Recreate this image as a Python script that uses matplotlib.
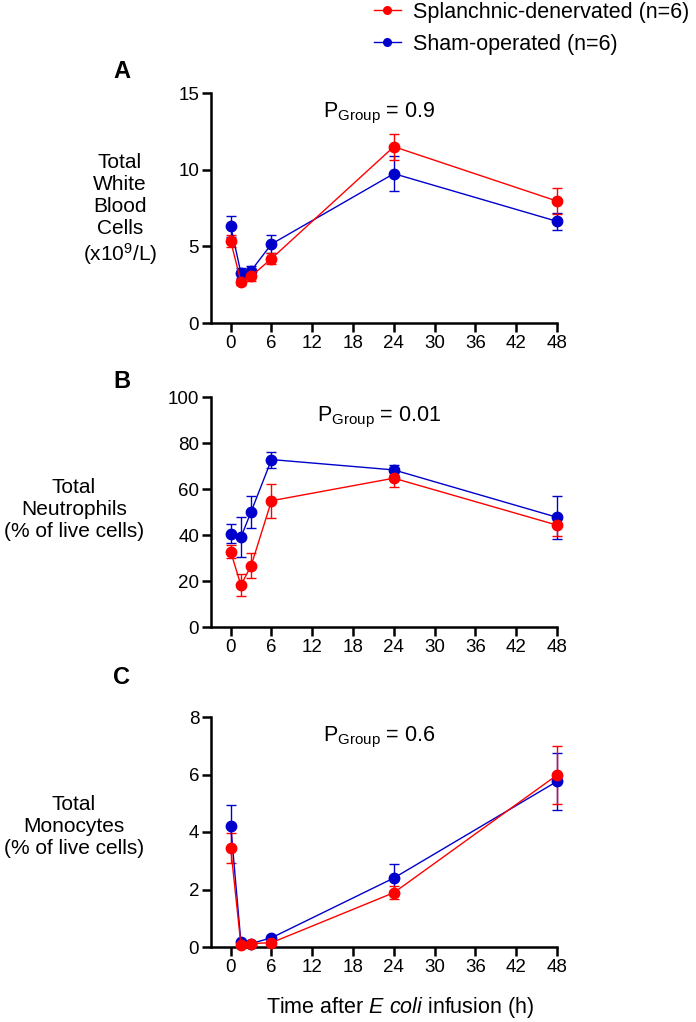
import matplotlib
matplotlib.use('Agg')
import matplotlib.pyplot as plt
from matplotlib.lines import Line2D

plt.rcParams['font.family'] = ['Liberation Sans', 'DejaVu Sans']
plt.rcParams['mathtext.fontset'] = 'custom'
plt.rcParams['mathtext.rm'] = 'Liberation Sans'
plt.rcParams['mathtext.it'] = 'Liberation Sans:italic'

# hours after infusion
time_h = [0, 1.5, 3, 6, 24, 48]
x_ticks = [0, 6, 12, 18, 24, 30, 36, 42, 48]

# A - total white blood cells (x10^9/L)
wbc_den = [5.33, 2.7, 3.05, 4.2, 11.5, 7.95]
wbc_den_err = [0.4, 0.2, 0.33, 0.37, 0.85, 0.85]
wbc_sham = [6.3, 3.26, 3.41, 5.15, 9.74, 6.63]
wbc_sham_err = [0.68, 0.3, 0.3, 0.6, 1.13, 0.55]

# B - neutrophils (% of live cells)
neu_den = [32.7, 18.2, 26.6, 54.9, 64.7, 44.3]
neu_den_err = [2.9, 4.8, 5.5, 7.4, 3.7, 4.6]
neu_sham = [40.6, 39.0, 50.1, 72.8, 68.3, 47.7]
neu_sham_err = [4.0, 8.7, 7.0, 3.5, 2.2, 9.4]

# C - monocytes (% of live cells)
mono_den = [3.44, 0.07, 0.12, 0.15, 1.89, 5.98]
mono_den_err = [0.51, 0.05, 0.05, 0.05, 0.23, 1.0]
mono_sham = [4.21, 0.17, 0.12, 0.32, 2.4, 5.76]
mono_sham_err = [0.73, 0.05, 0.05, 0.05, 0.5, 0.98]

group_labels = ['Splanchnic-denervated (n=6)', 'Sham-operated (n=6)']

panels = [
    ('A', 'Total\nWhite\nBlood\nCells\n(x10$^{9}$/L)', (120, 210), [0, 5, 10, 15],
     wbc_den, wbc_den_err, wbc_sham, wbc_sham_err, '0.9'),
    ('B', 'Total\nNeutrophils\n(% of live cells)', (74, 509), [0, 20, 40, 60, 80, 100],
     neu_den, neu_den_err, neu_sham, neu_sham_err, '0.01'),
    ('C', 'Total\nMonocytes\n(% of live cells)', (74, 826), [0, 2, 4, 6, 8],
     mono_den, mono_den_err, mono_sham, mono_sham_err, '0.6'),
]

RED = '#ff0000'
BLUE = '#0000cc'
W, H = 696, 1022

fig = plt.figure(figsize=(6.96, 10.22), dpi=100)

ax_tops = [93, 397, 717]
ax_h = 230
left, right = 211, 557
label_y = [72, 381, 677]

for i, (tag, ylab, ylab_pos, yt, den, den_err, sham, sham_err, pval) in enumerate(panels):
    top = ax_tops[i]
    ax = fig.add_axes([left / W, 1 - (top + ax_h) / H, (right - left) / W, ax_h / H])
    for y, e, c in [(sham, sham_err, BLUE), (den, den_err, RED)]:
        ax.errorbar(time_h, y, yerr=e, color=c, marker='o', markersize=7.5,
                    linewidth=1.0, elinewidth=1.0, capsize=3.5, capthick=1.0,
                    clip_on=False, zorder=3)
    ax.set_xlim(-2.9, 48)
    ax.set_ylim(yt[0], yt[-1])
    ax.set_xticks(x_ticks)
    ax.set_yticks(yt)
    for s in ['top', 'right']:
        ax.spines[s].set_visible(False)
    for s in ['left', 'bottom']:
        ax.spines[s].set_linewidth(1.8)
    ax.tick_params(width=1.8, length=6.5, labelsize=13.5, pad=2)
    ax.text(0.486, 0.913, r'P$_{\mathrm{Group}}$ = ' + pval, transform=ax.transAxes,
            ha='center', va='center', fontsize=15.5)
    fig.text(ylab_pos[0] / W, 1 - ylab_pos[1] / H, ylab, ha='center', va='center',
             fontsize=15, linespacing=1.2)
    fig.text(122 / W, 1 - label_y[i] / H, tag, ha='center', va='center',
             fontsize=17, fontweight='bold')

handles = [Line2D([], [], color=RED, marker='o', markersize=5.5, linewidth=1.0),
           Line2D([], [], color=BLUE, marker='o', markersize=5.5, linewidth=1.0)]
fig.legend(handles, group_labels, loc='upper left',
           bbox_to_anchor=(374 / W, 1 - 2 / H), frameon=False, fontsize=15.5,
           handlelength=1.25, handletextpad=0.55, labelspacing=0.5,
           borderaxespad=0, borderpad=0)

fig.text(400 / W, 1 - 1008 / H, r'Time after $\mathit{E\ coli}$ infusion (h)',
         ha='center', va='center', fontsize=15.5)

fig.savefig('out.png', dpi=100)
